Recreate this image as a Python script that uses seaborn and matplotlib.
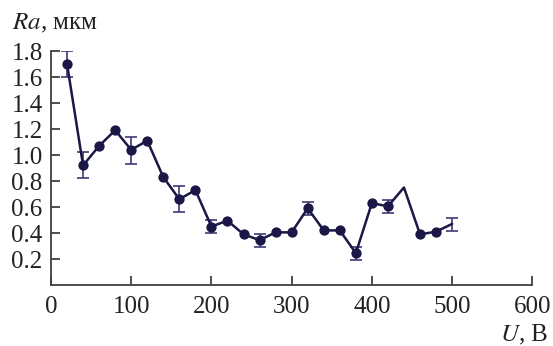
import numpy as np
import pandas as pd
import matplotlib
matplotlib.use('Agg')
import matplotlib.pyplot as plt
import seaborn as sns

# voltage, B
u = [20, 40, 60, 80, 100, 120, 140, 160, 180, 200, 220, 240, 260, 280, 300,
     320, 340, 360, 380, 400, 420, 440, 460, 480, 500]
# roughness Ra, mkm
ra = [1.70, 0.92, 1.07, 1.19, 1.04, 1.11, 0.83, 0.66, 0.73, 0.45, 0.495, 0.39, 0.345, 0.405, 0.405,
      0.59, 0.42, 0.42, 0.245, 0.63, 0.605, 0.75, 0.39, 0.41, 0.47]
# points drawn with a marker
has_marker = [1, 1, 1, 1, 1, 1, 1, 1, 1, 1, 1, 1, 1, 1, 1,
              1, 1, 1, 1, 1, 1, 0, 1, 1, 0]
# error bars
err_u = [20, 40, 100, 160, 200, 260, 320, 380, 420, 500]
err_ra = [1.70, 0.92, 1.035, 0.66, 0.45, 0.345, 0.59, 0.24, 0.605, 0.465]
err_d = [0.10, 0.10, 0.105, 0.10, 0.05, 0.05, 0.05, 0.05, 0.05, 0.05]

df = pd.DataFrame({'U': u, 'Ra': ra, 'm': has_marker})

sns.set_style('ticks')
plt.rcParams['font.family'] = ['Liberation Serif', 'DejaVu Serif']
plt.rcParams['mathtext.fontset'] = 'stix'

line_col = '#1b1747'
err_col = '#3e3a78'

fig = plt.figure(figsize=(5.53, 3.46), dpi=100)
ax = fig.add_axes([0.0922, 0.1763, 0.8704, 0.6763])

ax.errorbar(err_u, err_ra, yerr=err_d, fmt='none', ecolor=err_col,
            elinewidth=1.2, capsize=4, capthick=1.2, zorder=2)
sns.lineplot(data=df, x='U', y='Ra', color=line_col, linewidth=1.8, ax=ax, zorder=3)
sns.scatterplot(data=df[df['m'] == 1], x='U', y='Ra', color=line_col, s=55,
                edgecolor=line_col, linewidth=0, ax=ax, zorder=4)

ax.set_xlim(0, 600)
ax.set_ylim(0, 1.8)
ax.set_xticks([0, 100, 200, 300, 400, 500, 600])
ax.set_yticks([0.2, 0.4, 0.6, 0.8, 1.0, 1.2, 1.4, 1.6, 1.8])
ax.set_yticklabels(['0.2', '0.4', '0.6', '0.8', '1.0', '1.2', '1.4', '1.6', '1.8'])
ax.set_xlabel('')
ax.set_ylabel('')

for s in ['top', 'right']:
    ax.spines[s].set_visible(False)
for s in ['left', 'bottom']:
    ax.spines[s].set_color('#404040')
    ax.spines[s].set_linewidth(1.3)

ax.tick_params(axis='both', direction='in', length=6.5, width=1.3, color='#404040',
               labelsize=18, labelcolor='#222222')
ax.tick_params(axis='y', pad=6)
ax.tick_params(axis='x', pad=8)

fig.text(12 / 553, 1 - 29 / 346, r'$Ra$, мкм', fontsize=18, color='#222222',
         ha='left', va='baseline')
fig.text(548 / 553, 1 - 341 / 346, r'$U$, В', fontsize=18, color='#222222',
         ha='right', va='baseline')

fig.savefig('out.png', dpi=100)
